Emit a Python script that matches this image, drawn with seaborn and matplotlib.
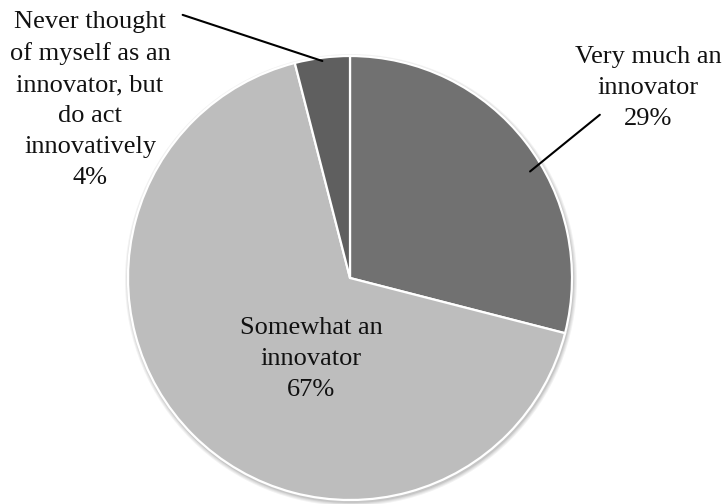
import numpy as np
import matplotlib
matplotlib.use("Agg")
import matplotlib.pyplot as plt
from matplotlib.patches import Circle
import seaborn as sns

# Survey answers, clockwise from the top of the pie
categories = ["Very much an\ninnovator", "Somewhat an\ninnovator",
              "Never thought\nof myself as an\ninnovator, but\ndo act\ninnovatively"]
shares = [29, 67, 4]
colors = ["#717171", "#bdbdbd", "#5f5f5f"]

sns.set_theme(style="white")
plt.rcParams["font.family"] = ["Liberation Serif", "DejaVu Serif"]

W, H = 723, 504
fig = plt.figure(figsize=(W / 100, H / 100), dpi=100)
ax = fig.add_axes([0, 0, 1, 1])

cx, cy, R = 350, H - 278, 222

# soft drop shadow under the pie
for i, a in enumerate([0.05, 0.05, 0.06, 0.08]):
    ax.add_patch(Circle((cx + 1, cy - 2), R + 4 - i, color="black", alpha=a,
                        lw=0, zorder=0))

wedges, _ = ax.pie(shares, colors=colors, startangle=90, counterclock=False,
                   center=(cx, cy), radius=R, frame=True,
                   wedgeprops=dict(edgecolor="white", linewidth=1.6))
ax.set_xlim(0, W)
ax.set_ylim(0, H)
ax.set_aspect("equal")
ax.axis("off")

labels = [f"{c}\n{v}%" for c, v in zip(categories, shares)]
fs = 19
ls = 1.52
tc = "#111111"


def point_on_pie(angle_from_top, frac):
    t = np.deg2rad(90 - angle_from_top)
    return cx + frac * R * np.cos(t), cy + frac * R * np.sin(t)


# Very much an innovator
ax.text(648, H - 88, labels[0], ha="center", va="center", fontsize=fs,
        linespacing=ls, color=tc)
ax.annotate("", xy=point_on_pie(59.5, 0.93), xytext=(602, H - 113),
            arrowprops=dict(arrowstyle="-", color="black", lw=1.5))

# Somewhat an innovator (inside its wedge)
ax.text(311, H - 359, labels[1], ha="center", va="center", fontsize=fs,
        linespacing=ls, color=tc)

# Never thought of myself as an innovator...
ax.text(90, H - 100, labels[2], ha="center", va="center", fontsize=fs,
        linespacing=ls, color=tc)
ax.annotate("", xy=point_on_pie(-6.6, 0.98), xytext=(180, H - 14),
            arrowprops=dict(arrowstyle="-", color="black", lw=1.5))

fig.savefig("out.png", dpi=100, facecolor="white")
